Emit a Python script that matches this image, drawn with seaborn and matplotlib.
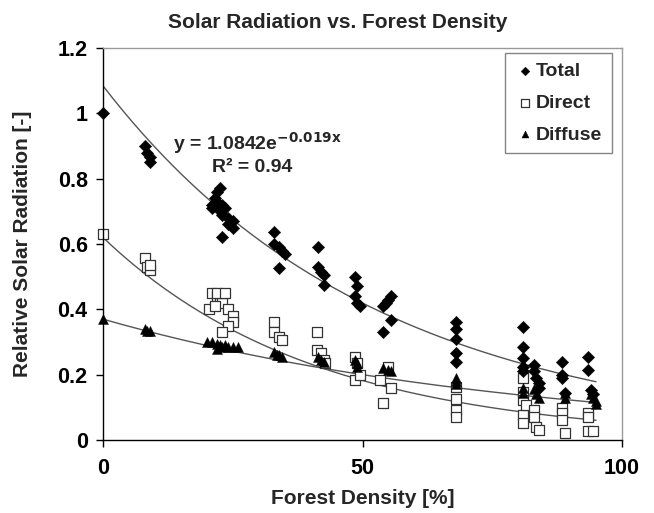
import numpy as np
import pandas as pd
import matplotlib
matplotlib.use("Agg")
import matplotlib.pyplot as plt
import seaborn as sns

# ---- data ----
total_x = [0, 8, 8.5, 9, 9,
           21, 21.5, 22, 22, 22.5, 23, 23, 23.5, 24, 24, 25, 25, 23, 22.5, 21,
           33, 33, 34, 34.5, 35, 34,
           41.5, 41.5, 42, 42.5, 42.5,
           48.5, 49, 48.5, 49, 49.5,
           54, 54.5, 55, 55.5, 55.5, 54,
           68, 68, 68, 68, 68,
           81, 81, 81, 81, 81, 83, 83, 83.5, 84, 84,
           88.5, 88.5, 88.5, 89,
           93.5, 93.5, 94, 94.5]
total_y = [1.00, 0.90, 0.88, 0.866, 0.851,
           0.72, 0.74, 0.76, 0.73, 0.70, 0.72, 0.69, 0.71, 0.68, 0.66, 0.67, 0.65, 0.62, 0.77, 0.71,
           0.637, 0.60, 0.59, 0.58, 0.57, 0.527,
           0.59, 0.53, 0.515, 0.505, 0.475,
           0.50, 0.47, 0.44, 0.42, 0.41,
           0.41, 0.42, 0.43, 0.44, 0.367, 0.33,
           0.36, 0.34, 0.31, 0.266, 0.24,
           0.345, 0.285, 0.25, 0.225, 0.21, 0.23, 0.21, 0.19, 0.175, 0.16,
           0.24, 0.20, 0.19, 0.145,
           0.254, 0.214, 0.153, 0.14]

direct_x = [0, 8, 8.5, 9, 9,
            21, 22, 22.5, 23, 20.5, 21.5, 24, 25, 25, 24, 23, 22, 23.5,
            33, 33, 34, 34.5,
            41.2, 41.2, 42, 42.5, 42.8,
            48.5, 49, 48.5, 49.5,
            53.4, 55.5, 54, 55,
            68, 68, 68, 68,
            81, 81, 81, 81, 81, 81.5, 83, 83, 83.5, 84,
            88.5, 88.5, 88.5, 89,
            93.5, 93.5, 93.5, 94.5]
direct_y = [0.63, 0.557, 0.53, 0.52, 0.535,
            0.45, 0.44, 0.43, 0.42, 0.40, 0.41, 0.40, 0.38, 0.36, 0.35, 0.33, 0.45, 0.45,
            0.36, 0.33, 0.315, 0.305,
            0.33, 0.275, 0.265, 0.245, 0.235,
            0.255, 0.235, 0.185, 0.20,
            0.185, 0.16, 0.113, 0.225,
            0.163, 0.125, 0.092, 0.07,
            0.19, 0.147, 0.122, 0.077, 0.052, 0.107, 0.092, 0.07, 0.04, 0.03,
            0.098, 0.083, 0.061, 0.021,
            0.083, 0.07, 0.028, 0.028]

diffuse_x = [0, 8, 8.5, 9,
             20, 21, 22, 22.5, 23, 23.5, 24, 25, 26, 22,
             33, 33.5, 34, 34.5,
             41.5, 42, 42.5,
             48.5, 49, 49,
             54, 55, 55.5,
             68, 68, 68,
             81, 81, 83, 83.5, 84,
             89, 89,
             94, 94.5, 95, 95]
diffuse_y = [0.37, 0.34, 0.335, 0.335,
             0.30, 0.30, 0.295, 0.29, 0.285, 0.29, 0.285, 0.285, 0.285, 0.28,
             0.27, 0.26, 0.26, 0.255,
             0.255, 0.245, 0.24,
             0.245, 0.235, 0.225,
             0.22, 0.215, 0.21,
             0.19, 0.18, 0.17,
             0.16, 0.145, 0.155, 0.14, 0.13,
             0.145, 0.13,
             0.14, 0.13, 0.12, 0.11]

# exponential trend parameters (a, b) for y = a*exp(b*x)
total_fit = (1.0842, -0.019)
direct_fit = (0.62, -0.0245)
diffuse_fit = (0.37, -0.0123)

series_names = ["Total", "Direct", "Diffuse"]
x_ticks = [0, 50, 100]
y_ticks = [0, 0.2, 0.4, 0.6, 0.8, 1.0, 1.2]
y_tick_labels = ["0", "0.2", "0.4", "0.6", "0.8", "1", "1.2"]

sns.set_theme(style="white")
plt.rcParams["font.family"] = ["Liberation Sans", "DejaVu Sans"]

fig = plt.figure(figsize=(6.54, 5.13), dpi=100)
ax = fig.add_axes([103 / 654, 1 - 440 / 513, (622 - 103) / 654, (440 - 48) / 513])

df = pd.concat([
    pd.DataFrame({"x": total_x, "y": total_y, "s": series_names[0]}),
    pd.DataFrame({"x": direct_x, "y": direct_y, "s": series_names[1]}),
    pd.DataFrame({"x": diffuse_x, "y": diffuse_y, "s": series_names[2]}),
])

# trend lines
xx = np.linspace(0, 95, 200)
for a, b in [total_fit, direct_fit, diffuse_fit]:
    sns.lineplot(x=xx, y=a * np.exp(b * xx), ax=ax, color="#555555", lw=1.0, zorder=1)

sns.scatterplot(data=df[df.s == "Total"], x="x", y="y", marker="D", s=40,
                color="black", edgecolor="black", linewidth=0.3, ax=ax, label="Total",
                zorder=3, clip_on=False)
sns.scatterplot(data=df[df.s == "Direct"], x="x", y="y", marker="s", s=62,
                facecolor="white", edgecolor="#333333", linewidth=0.9, ax=ax, label="Direct",
                zorder=2, clip_on=False)
sns.scatterplot(data=df[df.s == "Diffuse"], x="x", y="y", marker="^", s=52,
                color="black", edgecolor="black", linewidth=0.3, ax=ax, label="Diffuse",
                zorder=3, clip_on=False)

ax.set_xlim(0, 100)
ax.set_ylim(0, 1.2)
ax.set_xticks(x_ticks)
ax.set_yticks(y_ticks)
ax.set_yticklabels(y_tick_labels)
ax.tick_params(axis="both", which="both", direction="out", length=5, width=1,
               labelsize=15.5, colors="black", left=True, bottom=True)
ax.tick_params(axis="x", pad=8)
ax.tick_params(axis="y", pad=6)
for lab in ax.get_xticklabels() + ax.get_yticklabels():
    lab.set_fontweight("bold")

for side in ["left", "bottom"]:
    ax.spines[side].set_color("black")
    ax.spines[side].set_linewidth(1.0)
for side in ["top", "right"]:
    ax.spines[side].set_color("#999999")
    ax.spines[side].set_linewidth(1.0)

ax.set_xlabel("Forest Density [%]", fontsize=15, fontweight="bold")
ax.set_ylabel("Relative Solar Radiation [-]", fontsize=15, fontweight="bold")
ax.xaxis.set_label_coords(0.5, -(498 - 440) / (440 - 48), transform=ax.transAxes)
ax.yaxis.set_label_coords(-(103 - 23) / (622 - 103), 0.5, transform=ax.transAxes)
ax.xaxis.label.set_va("center")
ax.yaxis.label.set_va("center")

fig.text(338 / 654, 1 - 22 / 513, "Solar Radiation vs. Forest Density",
         ha="center", va="center", fontsize=15, fontweight="bold")

ax.text(13.5, 0.91, r"y = 1.0842e$^{\mathbf{-0.019x}}$", fontsize=14, fontweight="bold",
        va="center", ha="left")
ax.text(21.0, 0.835, "R² = 0.94", fontsize=14, fontweight="bold", va="center", ha="left")

leg = ax.legend(loc="upper right", frameon=True, fancybox=False, fontsize=14,
                handletextpad=0.0, borderpad=0.5, labelspacing=0.72, handlelength=1.1,
                borderaxespad=0.0, bbox_to_anchor=((612 - 103) / 519, (440 - 53) / 392),
                markerscale=0.7)
leg.get_frame().set_edgecolor("#666666")
leg.get_frame().set_linewidth(1.0)
for t in leg.get_texts():
    t.set_fontweight("bold")

fig.savefig("out.png", dpi=100)
